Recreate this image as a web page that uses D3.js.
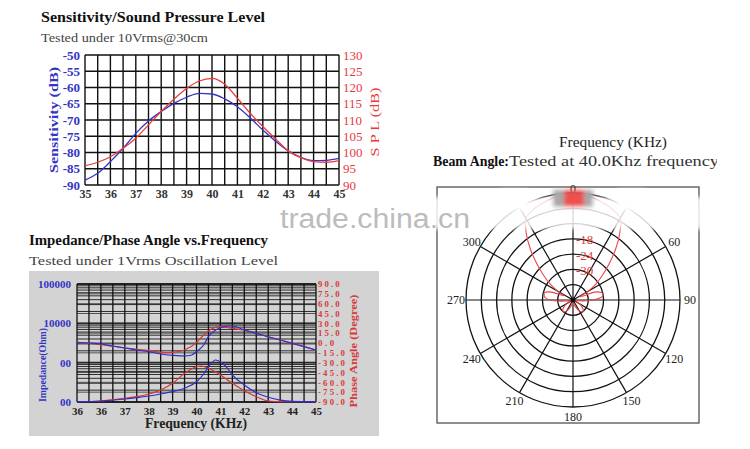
<!DOCTYPE html>
<html><head><meta charset="utf-8">
<script src="https://cdn.jsdelivr.net/npm/d3@7"></script>
<style>body{margin:0;background:#fff}svg{display:block}</style>
</head><body>
<svg id="c" width="750" height="449"></svg>
<script>
// ---------- Chart 1: Sensitivity / SPL ----------
const sensFreq = [35,35.5,36,36.5,37,37.5,38,38.5,39,39.5,40,40.5,41,41.5,42,42.5,43,43.5,44,44.5,45];
const sensDb   = [-88.5,-86.4,-82.8,-78.7,-74.1,-70.3,-67.4,-64.9,-63.0,-61.8,-62.0,-63.5,-65.9,-69.3,-73.1,-76.5,-79.5,-81.5,-82.5,-82.4,-81.8];
const splDb    = [95.9,97.0,98.7,101.3,104.4,108.5,112.6,116.4,119.7,122.0,122.8,121.0,116.7,112.1,108.0,104.2,100.5,98.4,97.2,97.0,97.5];
const sensTicks = [-50,-55,-60,-65,-70,-75,-80,-85,-90];
const splTicks  = [130,125,120,115,110,105,100,95,90];
const freqTicks1 = [35,36,37,38,39,40,41,42,43,44,45];

// ---------- Chart 2: Impedance / Phase ----------
const impFreqA = [35,35.5,36,36.5,37,37.5,38,38.5,39,39.5,39.8,40,40.3,40.5,40.8,41,41.3,41.5,42,42.5,43,43.5,44,44.5,45];
const impA     = [3300,3160,2980,2650,2360,2100,1900,1660,1540,1480,1570,1900,2810,4570,6760,7740,8550,8550,6760,5570,4570,3770,3100,2550,2100];
const phaseFreqA = [35,35.5,36,36.5,37,37.5,38,38.5,38.8,39,39.5,40,40.3,40.5,40.8,41,41.5,42,42.5,43,43.5,44,44.5,45];
const phaseA     = [1.1,-0.5,-2.6,-5.0,-7.6,-9.6,-11.7,-14.2,-14.8,-14.2,-10.7,0.5,12.2,18.3,24.0,24.9,22.4,19.8,14.8,9.6,4.6,-0.5,-5.6,-10.7];
const impFreqB = [35,36,37,37.5,38,38.5,39,39.5,40,40.3,40.5,40.8,41,41.3,41.5,42,42.5,43,43.5,44,45];
const impB     = [102,106,119,129,142,160,183,223,328,515,789,1170,1058,719,486,270,172,132,112,104,102];
const phaseFreqB = [35,36,37,37.5,38,38.5,39,39.5,40,40.2,40.5,41,41.5,42,42.5,43,43.5,44,45];
const phaseB     = [-89.5,-88.5,-84.4,-81.9,-77.8,-71.7,-61.5,-46.2,-36.2,-35.1,-38.6,-48.8,-61.5,-72.8,-81.9,-88.5,-89.5,-89.5,-89.5];
const freqTicks2 = [35,36,37,38,39,40,41,42,43,44,45];
const freqLabels2 = ["36","36","37","38","39","40","41","42","43","44","45"];
const impTicks = [100000,10000,1000,100];
const impLabels = ["100000","10000","00","00"];
const phaseTicks = [90,75,60,45,30,15,0,-15,-30,-45,-60,-75,-90];

// ---------- Chart 3: Beam angle (polar) ----------
const beamAngle = [-170,-160,-150,-140,-130,-120,-110,-100,-95,-90,-85,-80,-75,-70,-65,-60,-55,-50,-45,-40,-35,-30,-25,-20,-10,0,10,20,25,30,35,40,45,50,55,60,65,70,75,80,85,90,95,100,110,120,130,140,150,160,170,180];
const beamDb    = [-40.5,-39,-37,-36,-37,-39,-41,-40,-37,-33,-31,-30.5,-30.5,-33,-38,-35,-31,-27,-22,-16,-10,-5,-3.5,-2.5,-1,-0.5,-1,-2.5,-3.5,-5,-10,-16,-22,-27,-31,-35,-39,-33,-30.5,-30,-31,-34,-38,-40.5,-41,-39,-37,-36,-37,-39,-40.5,-41.5];
const ringDb = [-36,-30,-24,-18,-12,-6,0];
const ringLabelDb = [-18,-24,-30];
const spokeAngles = [0,30,60,90,120,150,180,210,240,270,300,330];

const svg = d3.select('#c');
const SERIF = "'Liberation Serif','Times New Roman',serif";
const SANS = "'Liberation Sans',Arial,sans-serif";
const BLUE = '#3434c4', RED = '#e8383c';

function txt(g, s, x, y, o = {}) {
  const t = g.append('text').attr('x', x).attr('y', y).text(s)
    .attr('font-family', o.family || SERIF)
    .attr('font-size', o.size || 13)
    .attr('font-weight', o.weight || 'normal')
    .attr('fill', o.fill || '#222')
    .attr('text-anchor', o.anchor || 'start');
  if (o.len) t.attr('textLength', o.len).attr('lengthAdjust', o.adjust || 'spacingAndGlyphs');
  if (o.rotate) t.attr('transform', `rotate(${o.rotate},${x},${y})`);
  if (o.baseline) t.attr('dominant-baseline', o.baseline);
  return t;
}
function styleAxis(g, color, size, weight) {
  g.select('.domain').remove();
  g.selectAll('line').remove();
  g.selectAll('text').attr('font-family', SERIF).attr('font-size', size)
    .attr('font-weight', weight).attr('fill', color);
}

// ================= Chart 1 =================
(function () {
  const g = svg.append('g');
  const L = 85, R = 339, T = 55, B = 185;
  const x = d3.scaleLinear().domain([35, 45]).range([L, R]);
  const yS = d3.scaleLinear().domain([-90, -50]).range([B, T]);
  const yP = d3.scaleLinear().domain([90, 130]).range([B, T]);

  txt(g, 'Sensitivity/Sound Pressure Level', 41, 22, {weight: 'bold', size: 14, len: 224, fill: '#111'});
  txt(g, 'Tested under 10Vrms@30cm', 41, 42, {size: 13, len: 167, fill: '#444'});

  g.append('rect').attr('x', L).attr('y', T).attr('width', R - L).attr('height', B - T).attr('fill', '#fff');
  g.selectAll('line.v').data(d3.range(35, 45.001, 0.5)).join('line').attr('class', 'v')
    .attr('x1', d => x(d)).attr('x2', d => x(d)).attr('y1', T).attr('y2', B)
    .attr('stroke', '#111').attr('stroke-width', 1.4);
  g.selectAll('line.h').data(sensTicks).join('line').attr('class', 'h')
    .attr('x1', L).attr('x2', R).attr('y1', d => yS(d)).attr('y2', d => yS(d))
    .attr('stroke', '#111').attr('stroke-width', 1.4);

  const ax1 = g.append('g').attr('transform', `translate(${L},0)`)
    .call(d3.axisLeft(yS).tickValues(sensTicks).tickSize(0).tickPadding(5).tickFormat(d => String(d)));
  styleAxis(ax1, BLUE, 13, 'bold');
  const ax2 = g.append('g').attr('transform', `translate(${R},0)`)
    .call(d3.axisRight(yP).tickValues(splTicks).tickSize(0).tickPadding(4));
  styleAxis(ax2, RED, 13, 'normal');
  const ax3 = g.append('g').attr('transform', `translate(0,${B})`)
    .call(d3.axisBottom(x).tickValues(freqTicks1).tickSize(0).tickPadding(4));
  styleAxis(ax3, '#333', 12, 'bold');

  txt(g, 'Sensitivity (dB)', 58, 120, {rotate: -90, anchor: 'middle', fill: BLUE, size: 13, weight: 'bold', len: 106});
  txt(g, 'S P L (dB)', 379, 122, {rotate: -90, anchor: 'middle', fill: RED, size: 13, len: 69});

  const lS = d3.line().x((d, i) => x(sensFreq[i])).y(d => yS(d)).curve(d3.curveMonotoneX);
  const lP = d3.line().x((d, i) => x(sensFreq[i])).y(d => yP(d)).curve(d3.curveMonotoneX);
  g.append('path').attr('d', lS(sensDb)).attr('fill', 'none').attr('stroke', BLUE).attr('stroke-width', 1.3);
  g.append('path').attr('d', lP(splDb)).attr('fill', 'none').attr('stroke', '#ee3a3a').attr('stroke-width', 1.3);
})();

// ================= Chart 2 =================
(function () {
  const g = svg.append('g');
  const L = 77, R = 316, T = 284, B = 402;
  const x = d3.scaleLinear().domain([35, 45]).range([L, R]);
  const yZ = d3.scaleLog().domain([100, 100000]).range([B, T]);
  const yP = d3.scaleLinear().domain([-90, 90]).range([B, T]);

  txt(g, 'Impedance/Phase Angle vs.Frequency', 29, 245, {weight: 'bold', size: 14, len: 239, fill: '#111'});
  txt(g, 'Tested under 1Vrms Oscillation Level', 29, 265, {size: 13, len: 249, fill: '#444'});

  g.append('rect').attr('x', 29).attr('y', 271).attr('width', 350).attr('height', 165).attr('fill', '#d3d3d3');

  // horizontal grid: log minor lines + phase lines
  const minor = [];
  [100, 1000, 10000].forEach(dec => { for (let k = 1; k < 10; k++) minor.push(dec * k); });
  minor.push(100000);
  g.selectAll('line.m').data(minor).join('line').attr('class', 'm')
    .attr('x1', L).attr('x2', R).attr('y1', d => yZ(d)).attr('y2', d => yZ(d))
    .attr('stroke', '#1a1a1a').attr('stroke-width', d => impTicks.includes(d) ? 1.8 : 0.9);
  g.selectAll('line.p').data(phaseTicks).join('line').attr('class', 'p')
    .attr('x1', L).attr('x2', R).attr('y1', d => yP(d)).attr('y2', d => yP(d))
    .attr('stroke', '#333').attr('stroke-width', 0.8);
  g.selectAll('line.v').data(d3.range(35, 45.001, 0.5)).join('line').attr('class', 'v')
    .attr('x1', d => x(d)).attr('x2', d => x(d)).attr('y1', T).attr('y2', B)
    .attr('stroke', '#111').attr('stroke-width', 1.3);

  const ax1 = g.append('g').attr('transform', `translate(${L},0)`)
    .call(d3.axisLeft(yZ).tickValues(impTicks).tickSize(0).tickPadding(6).tickFormat((d, i) => impLabels[i]));
  styleAxis(ax1, BLUE, 11, 'bold');
  const ax2 = g.append('g').attr('transform', `translate(${R},0)`)
    .call(d3.axisRight(yP).tickValues(phaseTicks).tickSize(0).tickPadding(2).tickFormat(d => d.toFixed(1)));
  styleAxis(ax2, '#d83a3a', 8.8, 'bold');
  ax2.selectAll('text').each(function () {
    const s = d3.select(this);
    s.attr('textLength', s.text().length * 5.4).attr('lengthAdjust', 'spacing');
  });
  const ax3 = g.append('g').attr('transform', `translate(0,${B})`)
    .call(d3.axisBottom(x).tickValues(freqTicks2).tickSize(0).tickPadding(5).tickFormat((d, i) => freqLabels2[i]));
  styleAxis(ax3, '#222', 11, 'bold');

  txt(g, 'Impedance(Ohm)', 46, 365, {rotate: -90, anchor: 'middle', fill: BLUE, size: 11, weight: 'bold', len: 74});
  txt(g, 'Phase Angle (Degree)', 357, 351, {rotate: -90, anchor: 'middle', fill: '#d83a3a', size: 11, weight: 'bold', len: 113});
  txt(g, 'Frequency  (KHz)', 196, 428, {anchor: 'middle', size: 14, len: 102, fill: '#222', weight: 'bold'});

  const lineZ = fr => d3.line().x((d, i) => x(fr[i])).y(d => yZ(d)).curve(d3.curveMonotoneX);
  const lineP = fr => d3.line().x((d, i) => x(fr[i])).y(d => yP(d)).curve(d3.curveMonotoneX);
  g.append('path').attr('d', lineP(phaseFreqA)(phaseA)).attr('fill', 'none').attr('stroke', '#d8363a').attr('stroke-width', 1.2);
  g.append('path').attr('d', lineP(phaseFreqB)(phaseB)).attr('fill', 'none').attr('stroke', '#d8363a').attr('stroke-width', 1.2);
  g.append('path').attr('d', lineZ(impFreqA)(impA)).attr('fill', 'none').attr('stroke', '#2f2fc8').attr('stroke-width', 1.2);
  g.append('path').attr('d', lineZ(impFreqB)(impB)).attr('fill', 'none').attr('stroke', '#2f2fc8').attr('stroke-width', 1.2);
})();

// ================= Chart 3 (polar) =================
(function () {
  const g = svg.append('g');
  const cx = 573, cy = 300, rOut = 107;
  const r = d3.scaleLinear().domain([-42, 0]).range([0, rOut]);

  txt(g, 'Frequency (KHz)', 613, 147, {anchor: 'middle', size: 14, len: 108, fill: '#222'});
  const defs = svg.append('defs');
  defs.append('clipPath').attr('id', 'tclip')
    .append('rect').attr('x', 420).attr('y', 150).attr('width', 297).attr('height', 25);
  const tg = g.append('g').attr('clip-path', 'url(#tclip)');
  txt(tg, 'Beam Angle:', 433, 166, {weight: 'bold', size: 14, len: 76, fill: '#111'});
  txt(tg, 'Tested at 40.0Khz frequency', 509, 166, {size: 14, len: 210, fill: '#333'});

  g.append('rect').attr('x', 437).attr('y', 187).attr('width', 262).attr('height', 236)
    .attr('fill', '#fff').attr('stroke', '#444').attr('stroke-width', 1.2);

  const pg = g.append('g').attr('transform', `translate(${cx},${cy})`);
  pg.selectAll('circle').data(ringDb).join('circle').attr('r', d => r(d))
    .attr('fill', 'none').attr('stroke', '#111').attr('stroke-width', 1.3);
  const rad = a => a * Math.PI / 180;
  pg.selectAll('line.s').data(spokeAngles).join('line').attr('class', 's')
    .attr('x1', 0).attr('y1', 0)
    .attr('x2', d => Math.sin(rad(d)) * rOut).attr('y2', d => -Math.cos(rad(d)) * rOut)
    .attr('stroke', '#111').attr('stroke-width', 1.2);

  const beam = d3.lineRadial().angle((d, i) => rad(beamAngle[i])).radius(d => r(d)).curve(d3.curveCardinalClosed.tension(0.2));
  pg.append('path').attr('d', beam(beamDb)).attr('fill', 'none').attr('stroke', '#e8474a').attr('stroke-width', 1.1);
  pg.append('circle').attr('r', 2.5).attr('fill', '#111');

  pg.selectAll('text.rl').data(ringLabelDb).join('text').attr('class', 'rl')
    .attr('x', 3).attr('y', d => -r(d) + 1).attr('dominant-baseline', 'central')
    .attr('font-family', SERIF).attr('font-size', 13).attr('fill', '#e03a3a')
    .text(d => String(d));

  pg.selectAll('text.al').data(spokeAngles).join('text').attr('class', 'al')
    .attr('x', d => Math.sin(rad(d)) * (d === 0 ? 111 : 117))
    .attr('y', d => -Math.cos(rad(d)) * (d === 0 ? 111 : 117))
    .attr('text-anchor', 'middle').attr('dominant-baseline', 'central')
    .attr('font-family', SERIF).attr('font-size', 12).attr('fill', '#222')
    .text(d => String(d));

  // erased watermark band
  defs.append('filter').attr('id', 'blur').attr('x', '-20%').attr('y', '-50%').attr('width', '140%').attr('height', '200%')
    .append('feGaussianBlur').attr('stdDeviation', 2);
  const bg = g.append('g').attr('filter', 'url(#blur)');
  bg.append('rect').attr('x', cx - 143).attr('y', cy - 103).attr('width', 290).attr('height', 32)
    .attr('fill', '#fff').attr('opacity', 0.82);
  bg.selectAll('rect.lab').data([30, 330]).join('rect').attr('class', 'lab')
    .attr('x', d => cx + Math.sin(rad(d)) * 117 - 14).attr('y', cy - 110)
    .attr('width', 28).attr('height', 20).attr('fill', '#fff');
  bg.append('rect').attr('x', cx - 20).attr('y', cy - rOut - 3).attr('width', 40).attr('height', 17).attr('fill', '#a8a8a8');
  bg.append('rect').attr('x', cx - 9).attr('y', cy - rOut - 3).attr('width', 20).attr('height', 17).attr('fill', '#ee5050');
})();

// watermark
txt(svg, 'trade.china.cn', 280, 228, {family: SANS, size: 27, fill: '#bcbcbc', len: 190});
</script>
</body></html>
